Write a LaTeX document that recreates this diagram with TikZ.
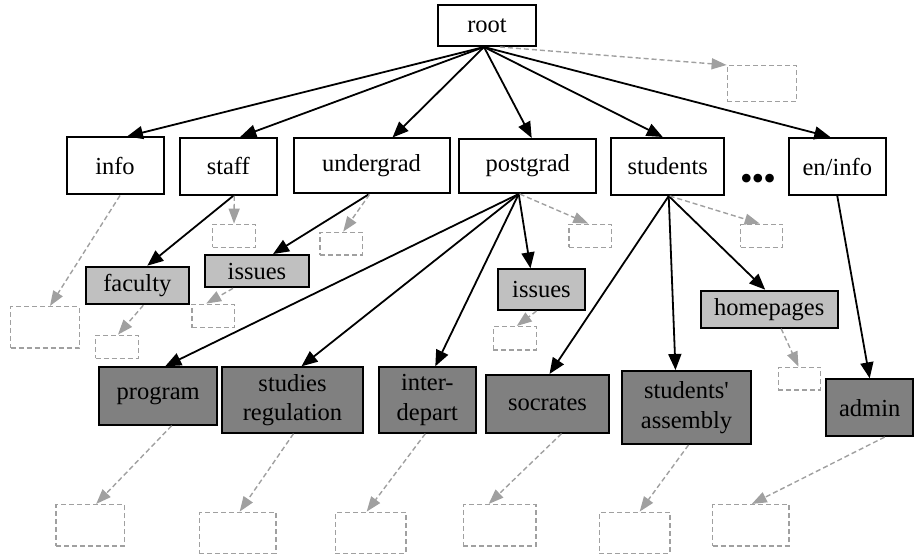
\documentclass[tikz,border=0pt]{standalone}
\usepackage{fontspec}
\setmainfont{Liberation Serif}[Ligatures=TeXOff]
\usetikzlibrary{arrows.meta}
\definecolor{lightfill}{HTML}{C0C0C0}
\definecolor{darkfill}{HTML}{808080}
\definecolor{ghostgray}{HTML}{A0A0A0}
\tikzset{
  box/.style={draw=black, line width=2pt, fill=white, inner sep=0pt, align=center,
    font=\fontsize{24.5}{29.5}\selectfont},
  lightbox/.style={box, fill=lightfill},
  darkbox/.style={box, fill=darkfill},
  ghost/.style={draw=ghostgray, line width=1.4pt, dash pattern=on 5pt off 3pt, inner sep=0pt},
  link/.style={draw=black, line width=1.8pt, -{Triangle[length=16pt, width=13pt]}},
  ghostlink/.style={draw=ghostgray, line width=1.4pt, dash pattern=on 5pt off 3pt,
    -{Triangle[length=15pt, width=11pt]}},
}
\begin{document}
\begin{tikzpicture}[x=1pt, y=-1pt]
\useasboundingbox (0,0) rectangle (914,556);
% level 0
\node[box, minimum width=98pt, minimum height=41pt] (root) at (487,25.5) {root};
% level 1
\node[box, minimum width=97pt, minimum height=57pt] (info) at (115,166) {info};
\node[box, minimum width=97pt, minimum height=57pt] (staff) at (228.3,166.3) {staff};
\node[box, minimum width=156pt, minimum height=55pt] (undergrad) at (371.5,166) {undergrad};
\node[box, minimum width=137pt, minimum height=54pt] (postgrad) at (527.7,166) {postgrad};
\node[box, minimum width=113pt, minimum height=57pt] (students) at (667.7,166.5) {students};
\node[box, minimum width=97pt, minimum height=57pt] (eninfo) at (837.3,166.5) {en/info};
\node[inner sep=0pt, font=\fontsize{36}{36}\selectfont] (dots) at (758,182) {•\kern-1pt•\kern-1pt•};
% level 2 light
\node[lightbox, minimum width=102.7pt, minimum height=37.6pt] (faculty) at (137.3,285.5) {faculty};
\node[lightbox, minimum width=104.6pt, minimum height=32.3pt] (issuesA) at (257,271.2) {issues};
\node[lightbox, minimum width=87.6pt, minimum height=40.7pt] (issuesB) at (541.5,289.7) {issues};
\node[lightbox, minimum width=137pt, minimum height=37pt] (homepages) at (769.2,309.2) {homepages};
% level 2 dark
\node[darkbox, minimum width=118.3pt, minimum height=57.4pt] (program) at (158.2,396) {program};
\node[darkbox, minimum width=141.6pt, minimum height=65.4pt] (studies) at (292.5,400) {studies\\regulation};
\node[darkbox, minimum width=97.3pt, minimum height=65.4pt] (inter) at (427.3,400) {inter-\\depart};
\node[darkbox, minimum width=123pt, minimum height=57.7pt] (socrates) at (547.5,403.8) {socrates};
\node[darkbox, minimum width=129pt, minimum height=73pt] (assembly) at (686.5,407.5) {students'\\assembly};
\node[darkbox, minimum width=87.3pt, minimum height=56.7pt] (admin) at (869.7,407.7) {admin};
% ghost boxes
\node[ghost, minimum width=69.4pt, minimum height=36pt] (groot) at (762,83.7) {};
\node[ghost, minimum width=42.6pt, minimum height=23pt] (gstaff) at (234,235.8) {};
\node[ghost, minimum width=42.3pt, minimum height=22.7pt] (gunder) at (341.2,243.7) {};
\node[ghost, minimum width=42.7pt, minimum height=23pt] (gpost) at (590.3,235.8) {};
\node[ghost, minimum width=42pt, minimum height=23pt] (gstud) at (761.7,235.8) {};
\node[ghost, minimum width=68.6pt, minimum height=41.3pt] (ginfo) at (45,327.3) {};
\node[ghost, minimum width=42.6pt, minimum height=23pt] (gfac) at (117,346.8) {};
\node[ghost, minimum width=42.3pt, minimum height=23.4pt] (gissA) at (213.2,316) {};
\node[ghost, minimum width=43pt, minimum height=23.3pt] (gissB) at (514.8,338.3) {};
\node[ghost, minimum width=42.4pt, minimum height=22.7pt] (ghome) at (799.5,378.7) {};
\node[ghost, minimum width=68.3pt, minimum height=41.3pt] (gprog) at (90.2,525.3) {};
\node[ghost, minimum width=76.7pt, minimum height=41pt] (gstudies) at (237.7,532.8) {};
\node[ghost, minimum width=70.7pt, minimum height=41pt] (ginter) at (370.7,532.8) {};
\node[ghost, minimum width=72.7pt, minimum height=41.3pt] (gsoc) at (499.7,525.3) {};
\node[ghost, minimum width=70.7pt, minimum height=41pt] (gasm) at (634.7,532.8) {};
\node[ghost, minimum width=76.3pt, minimum height=41.3pt] (gadmin) at (750.8,525.3) {};
% black links
\draw[link] ([xshift=-3pt]root.south) -- ([xshift=12pt]info.north);
\draw[link] ([xshift=-3pt]root.south) -- ([xshift=12pt]staff.north);
\draw[link] ([xshift=-3pt]root.south) -- ([xshift=21pt]undergrad.north);
\draw[link] ([xshift=-3pt]root.south) -- ([xshift=4pt]postgrad.north);
\draw[link] ([xshift=-3pt]root.south) -- ([xshift=-5pt]students.north);
\draw[link] ([xshift=-3pt]root.south) -- ([xshift=-7pt]eninfo.north);
\draw[link] ([xshift=5pt]staff.south) -- ([xshift=10pt]faculty.north);
\draw[link] ([xshift=-3pt]undergrad.south) -- ([xshift=16pt]issuesA.north);
\draw[link] ([xshift=-9pt]postgrad.south) -- ([xshift=7pt]program.north);
\draw[link] ([xshift=-9pt]postgrad.south) -- ([xshift=9pt]studies.north);
\draw[link] ([xshift=-9pt]postgrad.south) -- ([xshift=8pt]inter.north);
\draw[link] ([xshift=-9pt]postgrad.south) -- ([xshift=-11pt]issuesB.north);
\draw[link] ([xshift=1pt]students.south) -- ([xshift=2pt]socrates.north);
\draw[link] ([xshift=1pt]students.south) -- ([xshift=-11pt]assembly.north);
\draw[link] ([xshift=1pt]students.south) -- ([xshift=-4pt]homepages.north);
\draw[link] (eninfo.south) -- (admin.north);
% ghost links
\draw[ghostlink] ([xshift=13pt]root.south) -- (groot.north west);
\draw[ghostlink] ([xshift=6pt]staff.south) -- (gstaff.north);
\draw[ghostlink] ([xshift=-2pt]undergrad.south) -- ([xshift=2pt]gunder.north);
\draw[ghostlink] ([xshift=-8pt]postgrad.south) -- ([xshift=-2pt]gpost.north);
\draw[ghostlink] ([xshift=2pt]students.south) -- ([xshift=-2pt]gstud.north);
\draw[ghostlink] ([xshift=5pt]info.south) -- ([xshift=5pt]ginfo.north);
\draw[ghostlink] ([xshift=6pt]faculty.south) -- ([xshift=1pt]gfac.north);
\draw[ghostlink] ([xshift=-24pt]issuesA.south) -- ([xshift=-7pt]gissA.north);
\draw[ghostlink] ([xshift=-5pt]issuesB.south) -- ([xshift=2pt]gissB.north);
\draw[ghostlink] ([xshift=12pt]homepages.south) -- ([xshift=-1pt]ghome.north);
\draw[ghostlink] ([xshift=13.5pt]program.south) -- ([xshift=6pt]gprog.north);
\draw[ghostlink] ([xshift=1pt]studies.south) -- ([xshift=2pt]gstudies.north);
\draw[ghostlink] ([xshift=-2pt]inter.south) -- ([xshift=-4pt]ginter.north);
\draw[ghostlink] ([xshift=14pt]socrates.south) -- ([xshift=-11pt]gsoc.north);
\draw[ghostlink] ([xshift=2pt]assembly.south) -- ([xshift=5pt]gasm.north);
\draw[ghostlink] ([xshift=15pt]admin.south) -- ([xshift=1pt]gadmin.north);
\end{tikzpicture}
\end{document}
